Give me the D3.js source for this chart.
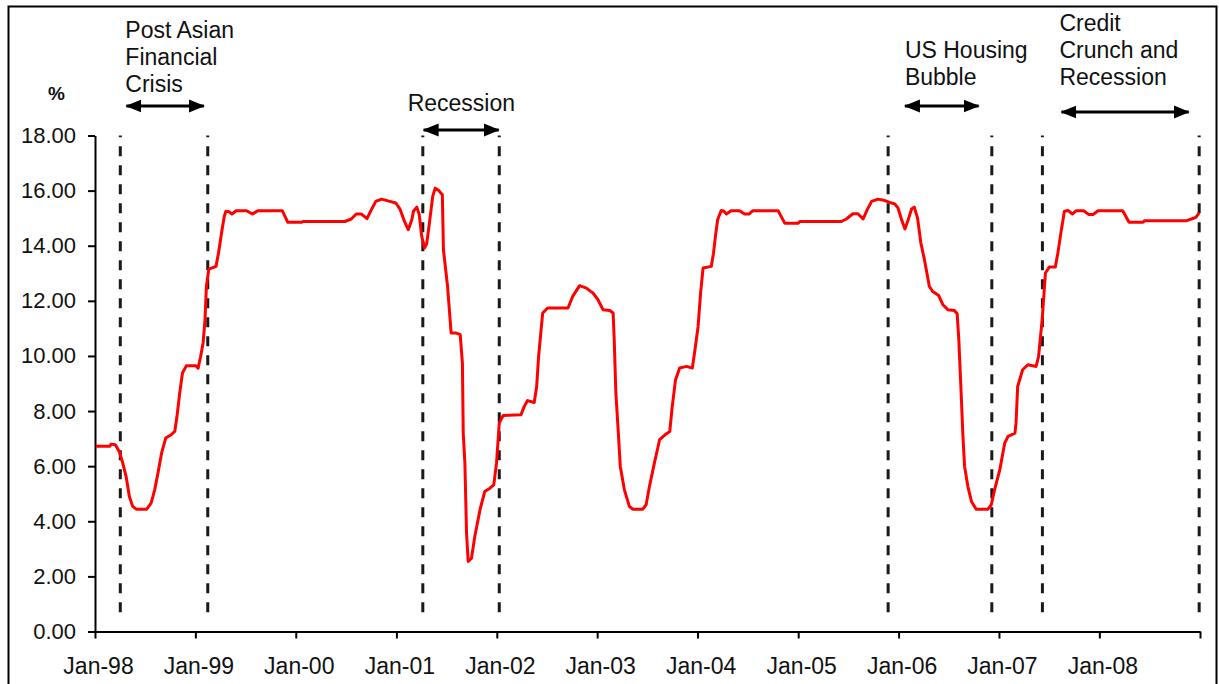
<!DOCTYPE html>
<html>
<head>
<meta charset="utf-8">
<script src="https://cdn.jsdelivr.net/npm/d3@7"></script>
<style>
  html, body { margin: 0; padding: 0; background: #fff; }
  svg { display: block; }
  text { font-family: "Liberation Sans", Arial, sans-serif; fill: #111; }
</style>
</head>
<body>
<svg id="chart" width="1219" height="684"></svg>
<script>
// Observation dates (line vertices) and the rate in % at each of them
const dates = [
  "1998-01-04","1998-02-24","1998-03-01","1998-03-16","1998-03-30","1998-04-12","1998-04-24","1998-05-06",
  "1998-05-18","1998-05-31","1998-07-08","1998-07-24","1998-08-06","1998-08-18","1998-08-31","1998-09-15",
  "1998-10-05","1998-10-18","1998-10-26","1998-11-05","1998-11-15","1998-11-29","1999-01-03","1999-01-11",
  "1999-01-20","1999-01-29","1999-02-05","1999-02-10","1999-02-19","1999-03-17","1999-03-26","1999-04-08",
  "1999-04-16","1999-04-22","1999-05-04","1999-05-14","1999-05-29","1999-07-06","1999-07-28","1999-08-16",
  "1999-11-13","1999-12-03","2000-01-21","2000-01-27","2000-06-27","2000-07-21","2000-08-08","2000-08-27",
  "2000-09-16","2000-10-02","2000-10-18","2000-11-08","2000-12-08","2000-12-30","2001-01-14","2001-01-28",
  "2001-02-13","2001-02-26","2001-03-04","2001-03-16","2001-03-25","2001-04-03","2001-04-13","2001-04-21",
  "2001-05-01","2001-05-13","2001-05-22","2001-06-03","2001-06-17","2001-06-21","2001-07-06","2001-07-19",
  "2001-08-07","2001-08-21","2001-08-29","2001-09-01","2001-09-07","2001-09-13","2001-09-19","2001-10-01",
  "2001-10-13","2001-11-01","2001-11-18","2001-12-07","2001-12-21","2001-12-31","2002-01-10","2002-01-24",
  "2002-03-30","2002-04-11","2002-04-23","2002-05-17","2002-05-26","2002-06-02","2002-06-11","2002-06-17",
  "2002-07-05","2002-09-17","2002-10-04","2002-10-29","2002-11-23","2002-12-17","2003-01-04","2003-01-22",
  "2003-02-16","2003-02-28","2003-03-04","2003-03-10","2003-03-19","2003-03-26","2003-04-10","2003-04-28",
  "2003-05-10","2003-06-16","2003-06-28","2003-07-10","2003-07-28","2003-08-16","2003-09-10","2003-09-22",
  "2003-10-01","2003-10-13","2003-10-28","2003-11-22","2003-12-13","2003-12-21","2004-01-03","2004-01-12",
  "2004-01-21","2004-02-20","2004-02-28","2004-03-06","2004-03-14","2004-03-27","2004-04-06","2004-04-15",
  "2004-05-02","2004-06-02","2004-06-20","2004-07-06","2004-07-20","2004-10-20","2004-11-13","2005-01-01",
  "2005-01-07","2005-06-07","2005-06-25","2005-07-19","2005-08-06","2005-08-25","2005-09-09","2005-09-25",
  "2005-10-18","2005-11-12","2005-11-30","2005-12-18","2005-12-30","2006-01-12","2006-01-24","2006-02-05",
  "2006-02-17","2006-02-27","2006-03-11","2006-03-23","2006-04-05","2006-04-23","2006-05-05","2006-05-27",
  "2006-06-11","2006-06-29","2006-07-23","2006-08-02","2006-08-08","2006-08-17","2006-08-23","2006-08-29",
  "2006-09-10","2006-09-23","2006-10-10","2006-11-22","2006-12-04","2006-12-16","2007-01-04","2007-01-22",
  "2007-02-03","2007-02-28","2007-03-04","2007-03-10","2007-03-28","2007-04-16","2007-05-16","2007-05-25",
  "2007-06-07","2007-06-19","2007-07-03","2007-07-25","2007-08-03","2007-08-15","2007-08-27","2007-09-09",
  "2007-09-25","2007-10-09","2007-11-05","2007-11-24","2007-12-09","2007-12-27","2008-03-26","2008-04-18",
  "2008-06-08","2008-06-14","2008-11-13","2008-12-01","2008-12-17","2008-12-29"
];
const rates = [
  6.72, 6.72, 6.80, 6.78, 6.53, 6.11, 5.63, 4.90,
  4.54, 4.44, 4.44, 4.66, 5.14, 5.75, 6.47, 7.02,
  7.14, 7.26, 7.80, 8.65, 9.38, 9.64, 9.64, 9.56,
  9.98, 10.47, 11.31, 12.52, 13.15, 13.25, 13.73, 14.58,
  15.06, 15.25, 15.23, 15.15, 15.27, 15.27, 15.15, 15.27,
  15.27, 14.85, 14.85, 14.88, 14.88, 14.97, 15.15, 15.15,
  14.98, 15.31, 15.61, 15.69, 15.61, 15.55, 15.33, 14.94,
  14.58, 14.94, 15.25, 15.40, 15.13, 14.34, 13.92, 14.07,
  14.82, 15.79, 16.09, 16.01, 15.85, 13.85, 12.52, 10.83,
  10.83, 10.77, 9.74, 7.20, 6.11, 3.57, 2.54, 2.66,
  3.45, 4.42, 5.08, 5.20, 5.32, 6.11, 7.56, 7.84,
  7.87, 8.17, 8.38, 8.31, 8.89, 9.98, 10.95, 11.56,
  11.74, 11.74, 12.16, 12.55, 12.46, 12.28, 12.04, 11.68,
  11.65, 11.56, 10.59, 8.65, 7.20, 5.99, 5.14, 4.54,
  4.44, 4.44, 4.60, 5.26, 6.11, 6.96, 7.18, 7.26,
  8.17, 9.14, 9.56, 9.62, 9.56, 10.11, 11.07, 12.28,
  13.19, 13.25, 13.73, 14.34, 14.94, 15.28, 15.25, 15.15,
  15.27, 15.27, 15.15, 15.15, 15.27, 15.27, 14.82, 14.82,
  14.88, 14.88, 14.97, 15.16, 15.16, 14.97, 15.31, 15.61,
  15.69, 15.64, 15.57, 15.52, 15.37, 14.94, 14.61, 14.94,
  15.33, 15.40, 15.00, 14.10, 13.49, 12.52, 12.34, 12.19,
  11.86, 11.68, 11.65, 11.53, 10.59, 8.53, 7.08, 5.99,
  5.26, 4.72, 4.44, 4.44, 4.60, 5.14, 5.87, 6.84,
  7.08, 7.20, 7.56, 8.89, 9.50, 9.68, 9.62, 9.98,
  11.31, 13.01, 13.23, 13.23, 13.73, 14.52, 15.25, 15.28,
  15.15, 15.27, 15.27, 15.13, 15.13, 15.27, 15.27, 14.85,
  14.85, 14.91, 14.91, 14.97, 15.03, 15.19
];

// Axis ticks
const xTickDates = ["1998-01-01","1999-01-01","2000-01-01","2001-01-01","2002-01-01","2003-01-01",
                    "2004-01-01","2005-01-01","2006-01-01","2007-01-01","2008-01-01","2009-01-01"];
const xTickLabels = ["Jan-98","Jan-99","Jan-00","Jan-01","Jan-02","Jan-03",
                     "Jan-04","Jan-05","Jan-06","Jan-07","Jan-08",""];
const yTickValues = [0, 2, 4, 6, 8, 10, 12, 14, 16, 18];
const yTickLabels = ["0.00","2.00","4.00","6.00","8.00","10.00","12.00","14.00","16.00","18.00"];

// Episode boundaries (vertical dashed markers)
const markerDates = ["1998-04-03","1999-02-15","2001-04-07","2002-01-10",
                     "2005-11-24","2006-12-06","2007-06-08","2008-12-29"];
const markerRange = [0.7, 18];

// Episode labels and the spans of their double arrows
const episodeNames = [
  ["Post Asian", "Financial", "Crisis"],
  ["Recession"],
  ["US Housing", "Bubble"],
  ["Credit", "Crunch and", "Recession"]
];
const arrowStarts = ["1998-04-25","2001-04-10","2006-01-24","2007-08-16"];
const arrowEnds   = ["1999-02-01","2002-01-08","2006-10-19","2008-11-21"];

const parse = d3.timeParse("%Y-%m-%d");
const svg = d3.select("#chart");

const x = d3.scaleTime()
  .domain([parse("1998-01-01"), parse("2009-01-01")])
  .range([95, 1200]);
const y = d3.scaleLinear().domain([0, 18]).range([631.5, 135.5]);

// Outer frame
svg.append("path")
  .attr("d", "M8.5,690 L8.5,6.5 L1216.5,6.5 L1216.5,690")
  .attr("fill", "none").attr("stroke", "#000").attr("stroke-width", 2);

// Dashed episode markers
svg.append("g").selectAll("line").data(markerDates).join("line")
  .attr("x1", d => x(parse(d))).attr("x2", d => x(parse(d)))
  .attr("y1", y(markerRange[0])).attr("y2", y(markerRange[1]))
  .attr("stroke", "#1a1a1a").attr("stroke-width", 3)
  .attr("stroke-dasharray", "10,9");

// Y axis
const yAxis = d3.axisLeft(y)
  .tickValues(yTickValues)
  .tickFormat((d, i) => yTickLabels[i])
  .tickSizeInner(7).tickSizeOuter(0).tickPadding(12);
const gy = svg.append("g").attr("transform", "translate(95,0)").call(yAxis);
gy.select(".domain").attr("stroke", "#000").attr("stroke-width", 2);
gy.selectAll(".tick line").attr("stroke", "#000").attr("stroke-width", 2);
gy.selectAll(".tick text").style("font-size", "22px").attr("fill", "#111");

// X axis
const xAxis = d3.axisBottom(x)
  .tickValues(xTickDates.map(parse))
  .tickFormat((d, i) => xTickLabels[i])
  .tickSizeInner(7).tickSizeOuter(0).tickPadding(19);
const gx = svg.append("g").attr("transform", "translate(0,631.5)").call(xAxis);
gx.select(".domain").attr("stroke", "#000").attr("stroke-width", 2);
gx.selectAll(".tick line").attr("stroke", "#000").attr("stroke-width", 2);
gx.selectAll(".tick text").style("font-size", "23px").attr("fill", "#111").attr("dx", 3);

// Unit label
svg.append("text").attr("x", 48).attr("y", 100)
  .style("font-size", "19px").style("font-weight", "bold").text("%");

// Rate series
const series = dates.map((d, i) => ({ date: parse(d), value: rates[i] }));
const line = d3.line().x(d => x(d.date)).y(d => y(d.value));
svg.append("path").datum(series)
  .attr("d", line)
  .attr("fill", "none")
  .attr("stroke", "#ff0000")
  .attr("stroke-width", 3)
  .attr("stroke-linejoin", "round");

// Arrowheads for the episode spans
const defs = svg.append("defs");
["start", "end"].forEach(kind => {
  defs.append("marker")
    .attr("id", "arrow-" + kind)
    .attr("viewBox", "0 0 16 16")
    .attr("refX", kind === "end" ? 15 : 1).attr("refY", 8)
    .attr("markerWidth", 16).attr("markerHeight", 16)
    .attr("markerUnits", "userSpaceOnUse")
    .attr("orient", "auto")
    .append("path")
    .attr("d", kind === "end" ? "M0,1.5 L16,8 L0,14.5 Z" : "M16,1.5 L0,8 L16,14.5 Z")
    .attr("fill", "#000");
});

// Label layout per episode: arrow height, first baseline, text offset from arrow start
const arrowY = [106, 130, 106, 112];
const labelTop = [38, 111, 58, 31];
const labelDx = [-1, -16, 0, -2];
const lineGap = 27;

episodeNames.forEach((lines, i) => {
  const x0 = x(parse(arrowStarts[i]));
  const x1 = x(parse(arrowEnds[i]));
  svg.append("line")
    .attr("x1", x0).attr("x2", x1)
    .attr("y1", arrowY[i]).attr("y2", arrowY[i])
    .attr("stroke", "#000").attr("stroke-width", 3)
    .attr("marker-start", "url(#arrow-start)")
    .attr("marker-end", "url(#arrow-end)");
  const t = svg.append("text")
    .attr("x", x0 + labelDx[i]).attr("y", labelTop[i])
    .style("font-size", "23px");
  lines.forEach((s, j) => {
    t.append("tspan").attr("x", x0 + labelDx[i]).attr("dy", j === 0 ? 0 : lineGap).text(s);
  });
});
</script>
</body>
</html>
